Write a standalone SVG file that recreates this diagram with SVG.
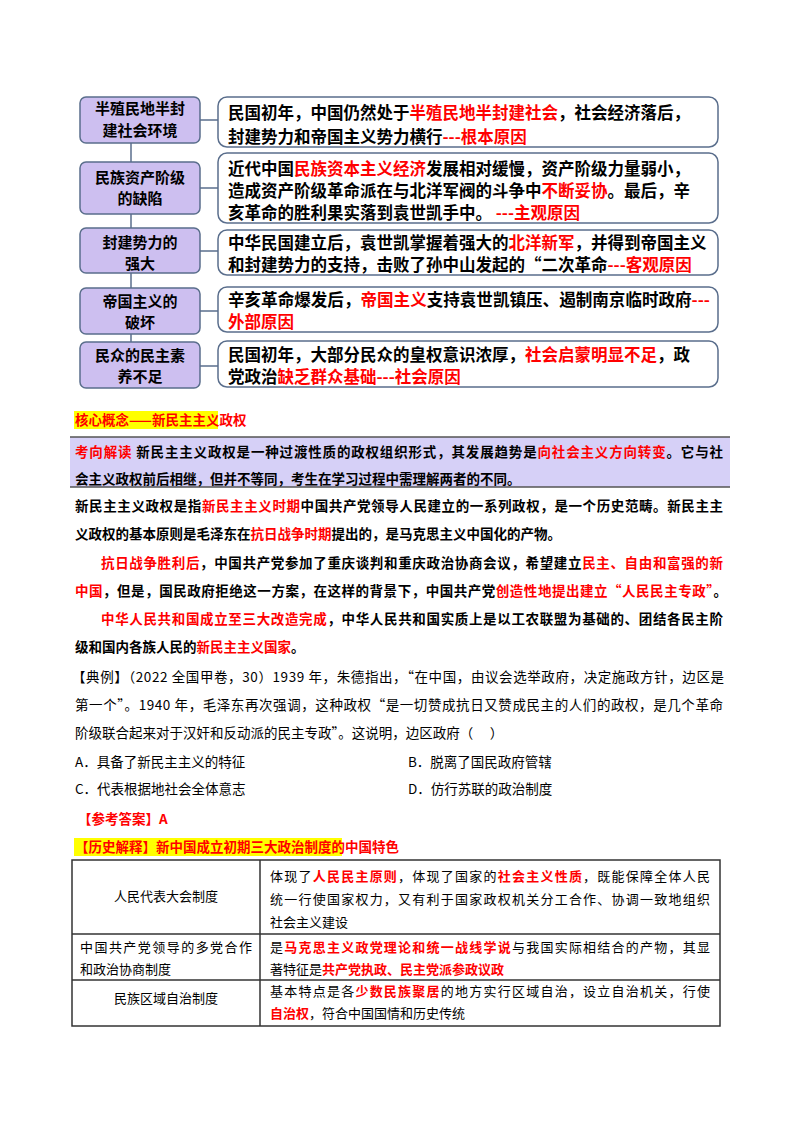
<svg xmlns="http://www.w3.org/2000/svg" width="800" height="1132" viewBox="0 0 800 1132">
<style>
text{font-family:"Noto Sans CJK SC","Liberation Sans",sans-serif;fill:#000}
.lb{fill:#cdbff0;stroke:#5a6e8c;stroke-width:1.5}
.rb{fill:#fff;stroke:#5a6e8c;stroke-width:1.5}
.lt{font-size:15px;font-weight:bold;text-anchor:middle}
.rt{font-size:16.5px;font-weight:bold}
.r{fill:#ff0000}
.p{font-size:13.5px;font-weight:bold}
.n{font-size:13.5px}
.t{font-size:13px}
.c{stroke:#5a6e8c;stroke-width:1.5;fill:none}
</style>
<rect width="800" height="1132" fill="#fff"/>
<g id="connectors">
<line class="c" x1="131" y1="143" x2="131" y2="343"/>
<line class="c" x1="200" y1="120" x2="218" y2="120"/>
<line class="c" x1="200" y1="188" x2="218" y2="188"/>
<line class="c" x1="200" y1="251" x2="218" y2="251"/>
<line class="c" x1="200" y1="311" x2="218" y2="311"/>
<line class="c" x1="200" y1="366" x2="218" y2="366"/>
</g>
<g id="n1"><rect class="lb" x="80" y="97" width="120" height="46" rx="6"/><text class="lt" x="140" y="114">半殖民地半封</text><text class="lt" x="140" y="136">建社会环境</text></g>
<g id="n2"><rect class="lb" x="80" y="162" width="120" height="52" rx="6"/><text class="lt" x="140" y="183">民族资产阶级</text><text class="lt" x="140" y="204">的缺陷</text></g>
<g id="n3"><rect class="lb" x="80" y="228" width="120" height="45" rx="6"/><text class="lt" x="140" y="248">封建势力的</text><text class="lt" x="140" y="269">强大</text></g>
<g id="n4"><rect class="lb" x="80" y="288" width="120" height="46" rx="6"/><text class="lt" x="140" y="307">帝国主义的</text><text class="lt" x="140" y="328">破坏</text></g>
<g id="n5"><rect class="lb" x="80" y="342" width="120" height="46" rx="6"/><text class="lt" x="140" y="361">民众的民主素</text><text class="lt" x="140" y="382">养不足</text></g>
<g id="r1"><rect class="rb" x="218" y="97" width="500" height="50" rx="9"/>
<text class="rt" x="228" y="119">民国初年，中国仍然处于<tspan class="r">半殖民地半封建社会</tspan>，社会经济落后，</text>
<text class="rt" x="228" y="143">封建势力和帝国主义势力横行<tspan class="r">---根本原因</tspan></text></g>
<g id="r2"><rect class="rb" x="218" y="153" width="500" height="70" rx="9"/>
<text class="rt" x="228" y="175">近代中国<tspan class="r">民族资本主义经济</tspan>发展相对缓慢，资产阶级力量弱小，</text>
<text class="rt" x="228" y="197">造成资产阶级革命派在与北洋军阀的斗争中<tspan class="r">不断妥协</tspan>。最后，辛</text>
<text class="rt" x="228" y="219">亥革命的胜利果实落到袁世凯手中。 <tspan class="r">---主观原因</tspan></text></g>
<g id="r3"><rect class="rb" x="218" y="230" width="500" height="45" rx="9"/>
<text class="rt" x="228" y="249">中华民国建立后，袁世凯掌握着强大的<tspan class="r">北洋新军</tspan>，并得到帝国主义</text>
<text class="rt" x="228" y="271">和封建势力的支持，击败了孙中山发起的“二次革命<tspan class="r">---客观原因</tspan></text></g>
<g id="r4"><rect class="rb" x="218" y="287" width="500" height="45" rx="9"/>
<text class="rt" x="228" y="306" textLength="482" lengthAdjust="spacingAndGlyphs">辛亥革命爆发后，<tspan class="r">帝国主义</tspan>支持袁世凯镇压、遏制南京临时政府<tspan class="r">---</tspan></text>
<text class="rt" x="228" y="328"><tspan class="r">外部原因</tspan></text></g>
<g id="r5"><rect class="rb" x="218" y="341" width="500" height="46" rx="9"/>
<text class="rt" x="228" y="361">民国初年，大部分民众的皇权意识浓厚，<tspan class="r">社会启蒙明显不足</tspan>，政</text>
<text class="rt" x="228" y="383">党政治<tspan class="r">缺乏群众基础---社会原因</tspan></text></g>

<rect x="74" y="411" width="144" height="18" fill="#ffff00"/>
<text class="p" x="75" y="425"><tspan class="r">核心概念——新民主主义政权</tspan></text>
<rect x="70" y="437" width="660" height="50" fill="#d6d0f7"/>
<line x1="70" y1="437" x2="730" y2="437" stroke="#555" stroke-width="1.5"/>
<line x1="70" y1="487" x2="730" y2="487" stroke="#555" stroke-width="1.5"/>
<text class="p" x="75" y="457" textLength="648" lengthAdjust="spacing"><tspan class="r">考向解读</tspan> 新民主主义政权是一种过渡性质的政权组织形式，其发展趋势是<tspan class="r">向社会主义方向转变</tspan>。它与社</text>
<text class="p" x="75" y="484">会主义政权前后相继，但并不等同，考生在学习过程中需理解两者的不同。</text>
<text class="p" x="75" y="511" textLength="648" lengthAdjust="spacing">新民主主义政权是指<tspan class="r">新民主主义时期</tspan>中国共产党领导人民建立的一系列政权，是一个历史范畴。新民主主</text>
<text class="p" x="75" y="539">义政权的基本原则是毛泽东在<tspan class="r">抗日战争时期</tspan>提出的，是马克思主义中国化的产物。</text>
<text class="p" x="101" y="568" textLength="622" lengthAdjust="spacing"><tspan class="r">抗日战争胜利后</tspan>，中国共产党参加了重庆谈判和重庆政治协商会议，希望建立<tspan class="r">民主、自由和富强的新</tspan></text>
<text class="p" x="75" y="596" textLength="652" lengthAdjust="spacing"><tspan class="r">中国</tspan>，但是，国民政府拒绝这一方案，在这样的背景下，中国共产党<tspan class="r">创造性地提出建立“人民民主专政”</tspan>。</text>
<text class="p" x="101" y="624" textLength="622" lengthAdjust="spacing"><tspan class="r">中华人民共和国成立至三大改造完成</tspan>，中华人民共和国实质上是以工农联盟为基础的、团结各民主阶</text>
<text class="p" x="75" y="652">级和国内各族人民的<tspan class="r">新民主主义国家</tspan>。</text>
<text class="n" x="72" y="682" textLength="652" lengthAdjust="spacing">【典例】（2022 全国甲卷，30）1939 年，朱德指出，“在中国，由议会选举政府，决定施政方针，边区是</text>
<text class="n" x="75" y="710" textLength="648" lengthAdjust="spacing">第一个”。1940 年，毛泽东再次强调，这种政权“是一切赞成抗日又赞成民主的人们的政权，是几个革命</text>
<text class="n" x="75" y="738">阶级联合起来对于汉奸和反动派的民主专政”。这说明，边区政府（　 ）</text>
<text class="n" x="75" y="767">A．具备了新民主主义的特征</text>
<text class="n" x="408" y="767">B．脱离了国民政府管辖</text>
<text class="n" x="75" y="794">C．代表根据地社会全体意志</text>
<text class="n" x="408" y="794">D．仿行苏联的政治制度</text>
<text class="p" x="78" y="824"><tspan class="r">【参考答案】A</tspan></text>
<rect x="74" y="838" width="268" height="18" fill="#ffff00"/>
<text class="p" x="75" y="852"><tspan class="r">【历史解释】新中国成立初期三大政治制度的中国特色</tspan></text>
<g id="table" fill="none" stroke="#333" stroke-width="1.5">
<rect x="72" y="860" width="648" height="166"/>
<line x1="72" y1="934" x2="720" y2="934"/>
<line x1="72" y1="980" x2="720" y2="980"/>
<line x1="260" y1="860" x2="260" y2="1026"/>
</g>
<text class="t" x="166" y="901" text-anchor="middle">人民代表大会制度</text>
<text class="t" x="270" y="881" textLength="440" lengthAdjust="spacing">体现了<tspan class="r" font-weight="bold">人民民主原则</tspan>，体现了国家的<tspan class="r" font-weight="bold">社会主义性质</tspan>，既能保障全体人民</text>
<text class="t" x="270" y="904" textLength="440" lengthAdjust="spacing">统一行使国家权力，又有利于国家政权机关分工合作、协调一致地组织</text>
<text class="t" x="270" y="927">社会主义建设</text>
<text class="t" x="80" y="952" textLength="172" lengthAdjust="spacing">中国共产党领导的多党合作</text>
<text class="t" x="80" y="974">和政治协商制度</text>
<text class="t" x="270" y="952" textLength="440" lengthAdjust="spacing">是<tspan class="r" font-weight="bold">马克思主义政党理论和统一战线学说</tspan>与我国实际相结合的产物，其显</text>
<text class="t" x="270" y="974">著特征是<tspan class="r" font-weight="bold">共产党执政、民主党派参政议政</tspan></text>
<text class="t" x="166" y="1003" text-anchor="middle">民族区域自治制度</text>
<text class="t" x="270" y="996" textLength="440" lengthAdjust="spacing">基本特点是各<tspan class="r" font-weight="bold">少数民族聚居</tspan>的地方实行区域自治，设立自治机关，行使</text>
<text class="t" x="270" y="1018"><tspan class="r" font-weight="bold">自治权</tspan>，符合中国国情和历史传统</text>
</svg>
